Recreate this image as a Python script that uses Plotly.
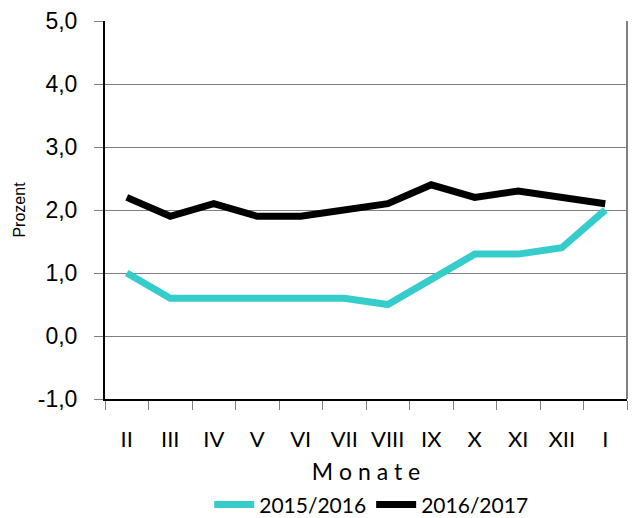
import plotly.graph_objects as go

months = ["II", "III", "IV", "V", "VI", "VII", "VIII", "IX", "X", "XI", "XII", "I"]
s2015_2016 = [1.0, 0.6, 0.6, 0.6, 0.6, 0.6, 0.5, 0.9, 1.3, 1.3, 1.4, 2.0]
s2016_2017 = [2.2, 1.9, 2.1, 1.9, 1.9, 2.0, 2.1, 2.4, 2.2, 2.3, 2.2, 2.1]
y_ticks = [-1, 0, 1, 2, 3, 4, 5]
y_tick_labels = ["-1,0", "0,0", "1,0", "2,0", "3,0", "4,0", "5,0"]

calibri_like = "Lato, Open Sans, sans-serif"
arial_like = "Liberation Sans, Arial, sans-serif"

# the page body has an 8px default margin, so the figure is sized/offset to compensate
fig = go.Figure()
fig.add_trace(go.Scatter(x=months, y=s2015_2016, mode="lines", name="2015/2016",
                         line=dict(color="#36CCCC", width=7)))
fig.add_trace(go.Scatter(x=months, y=s2016_2017, mode="lines", name="2016/2017",
                         line=dict(color="#000000", width=7)))

fig.update_layout(
    width=635, height=510,
    margin=dict(l=97, r=16, t=13, b=119, autoexpand=False),
    paper_bgcolor="white", plot_bgcolor="white",
    showlegend=True,
    legend=dict(orientation="h", x=0.51, xanchor="center", y=-0.28, yanchor="middle",
                font=dict(family=calibri_like, size=21, color="black"),
                tracegroupgap=0, itemwidth=40),
    xaxis=dict(
        type="category", tickson="boundaries", ticks="outside", ticklen=9,
        tickcolor="#808080", showline=True, linecolor="black", linewidth=2,
        showgrid=False, range=[-0.5, 11.5], automargin=False,
        tickangle=0, ticklabelstandoff=20,
        tickfont=dict(family=calibri_like, size=22, color="black"),
        title=dict(text="M o n a t e", standoff=12,
                   font=dict(family=calibri_like, size=23, color="black")),
    ),
    yaxis=dict(
        range=[-1, 5], tickvals=y_ticks, ticktext=y_tick_labels, ticks="outside", ticklen=9,
        tickcolor="#808080", showline=True, linecolor="black", linewidth=2,
        showgrid=True, gridcolor="#808080", gridwidth=1, zeroline=False, automargin=False,
        ticklabelstandoff=12,
        tickfont=dict(family=arial_like, size=23, color="black"),
        title=dict(text="Prozent", standoff=8,
                   font=dict(family=arial_like, size=16, color="black")),
    ),
    shapes=[dict(type="line", xref="paper", yref="paper", x0=1, x1=1, y0=0, y1=1,
                 line=dict(color="#808080", width=2))],
)

fig.write_html("out.html")
